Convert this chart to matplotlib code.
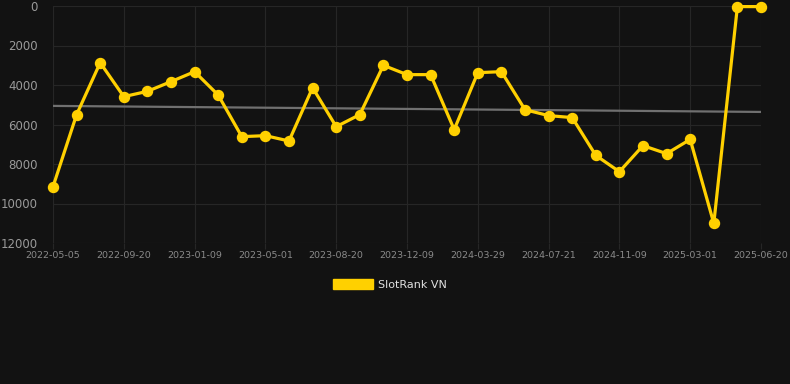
import numpy as np
import matplotlib
matplotlib.use("Agg")
import matplotlib.pyplot as plt
from matplotlib.patches import Patch

# Rank values (lower is better, axis inverted)
rank = [9150, 5500, 2870, 4590, 4320, 3830, 3325, 4510, 6615, 6565,
        6835, 4135, 6110, 5500, 3005, 3475, 3475, 6260, 3375, 3325,
        5250, 5550, 5650, 7565, 8390, 7070, 7475, 6755, 11005, 30, 30]
tick_labels = ["2022-05-05", "2022-09-20", "2023-01-09", "2023-05-01",
               "2023-08-20", "2023-12-09", "2024-03-29", "2024-07-21",
               "2024-11-09", "2025-03-01", "2025-06-20"]
y_ticks = [0, 2000, 4000, 6000, 8000, 10000, 12000]

bg = "#121212"
gold = "#FFD000"

x = np.arange(len(rank))
slope, icpt = np.polyfit(x, rank, 1)
trend = slope * x + icpt

fig = plt.figure(figsize=(7.9, 3.84), dpi=100, facecolor=bg)
ax = fig.add_axes([53 / 790, 1 - 243 / 384, 708 / 790, 237 / 384])
ax.set_facecolor(bg)

ax.plot(x, trend, color="#707070", lw=1.6, zorder=2)
ax.plot(x, rank, color=gold, lw=2.3, marker="o", ms=7.2, zorder=3,
        clip_on=False)

ax.set_xlim(0, len(rank) - 1)
ax.set_ylim(12000, 0)
ax.set_yticks(y_ticks)
ax.set_yticklabels([str(v) for v in y_ticks])
ax.set_xticks(x[::3])
ax.set_xticklabels(tick_labels)

ax.grid(True, color="#262626", lw=0.8)
for s in ax.spines.values():
    s.set_visible(False)
ax.tick_params(axis="y", length=0, pad=11, labelsize=8.5, labelcolor="#9a9a9a")
ax.tick_params(axis="x", length=4, color="#262626", pad=2, labelsize=6.8,
               labelcolor="#8a8a8a")

ax.legend(handles=[Patch(color=gold, label="SlotRank VN")],
          loc="upper center", bbox_to_anchor=(0.476, -0.11), frameon=False,
          fontsize=8, labelcolor="#e0e0e0", handlelength=3.6,
          handleheight=0.95, handletextpad=0.5)

fig.savefig("out.png", dpi=100, facecolor=bg)
